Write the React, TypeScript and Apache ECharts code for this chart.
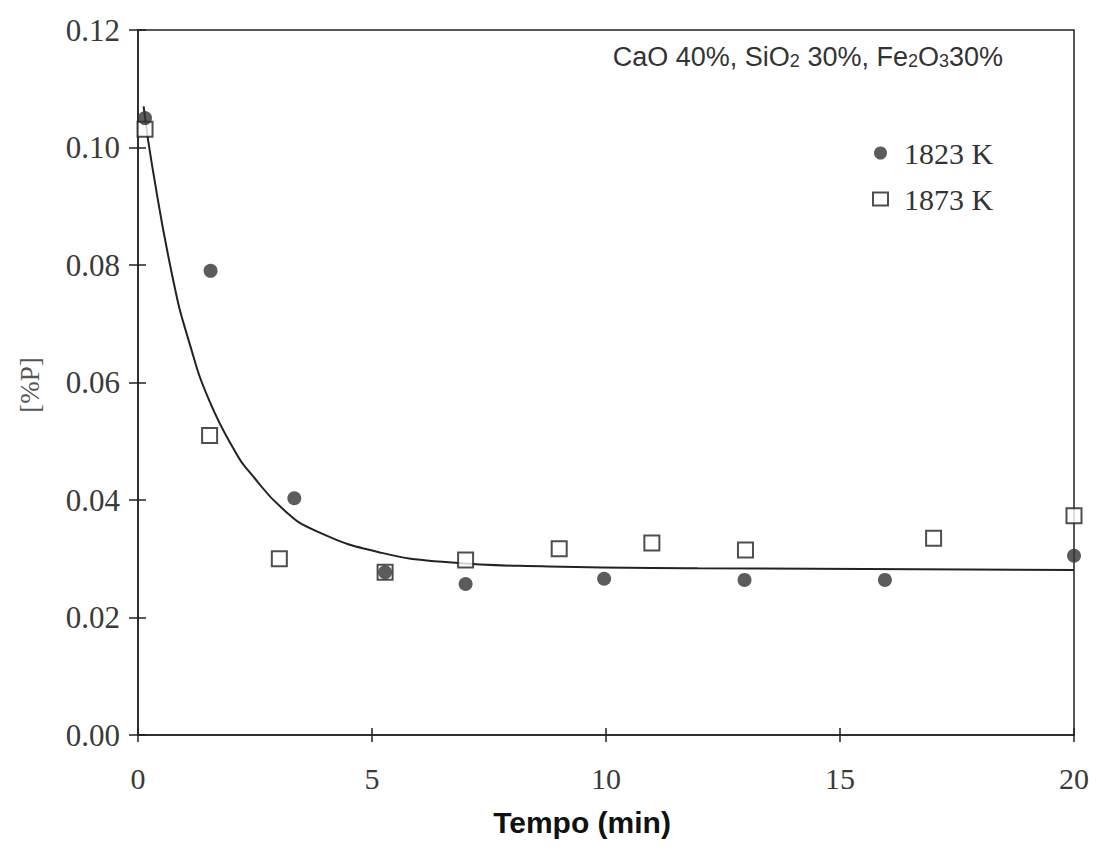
import React, { useEffect, useRef } from "react";
import * as echarts from "echarts";

const xTicks = [0, 5, 10, 15, 20];
const yTickLabels = ["0.00", "0.02", "0.04", "0.06", "0.08", "0.10", "0.12"];

const t1823 = [0.15, 1.55, 3.34, 5.28, 7.0, 9.96, 12.96, 15.96, 20.0];
const p1823 = [0.105, 0.079, 0.0403, 0.0277, 0.0257, 0.0266, 0.0264, 0.0264, 0.0305];

const t1873 = [0.15, 1.53, 3.02, 5.28, 7.0, 9.0, 10.98, 12.98, 17.0, 20.0];
const p1873 = [0.1031, 0.051, 0.03, 0.0277, 0.0298, 0.0317, 0.0327, 0.0315, 0.0335, 0.0373];

const tFit = [0.12, 0.3, 0.75, 1.1, 1.53, 2.13, 2.38, 3.09, 3.81, 5.21, 6.64, 8.77, 11.96, 20.0];
const pFit = [0.107, 0.097, 0.0775, 0.0667, 0.0568, 0.0475, 0.0448, 0.0385, 0.0347, 0.031, 0.0294, 0.0287, 0.0284, 0.0281];

const serif = "'Liberation Serif', 'DejaVu Serif', serif";
const sans = "'Liberation Sans', Arial, sans-serif";

export default function App() {
  const ref = useRef<HTMLDivElement>(null);
  useEffect(() => {
    if (!ref.current) return;
    const chart = echarts.init(ref.current, null, { renderer: "svg" });
    const zip = (a: number[], b: number[]) => a.map((v, i) => [v, b[i]]);
    const axisLineStyle = { color: "#222", width: 1.5 };
    chart.setOption({
      animation: false,
      backgroundColor: "#fff",
      grid: {
        left: 130,
        right: 14,
        top: 22,
        bottom: 116,
        show: true,
        borderColor: "#222",
        borderWidth: 1.5,
        backgroundColor: "transparent",
      },
      legend: {
        orient: "vertical",
        left: 859,
        top: 125,
        itemGap: 16,
        itemWidth: 15,
        itemHeight: 13,
        data: [
          { name: "1823 K", icon: "circle" },
          { name: "1873 K", icon: "rect" },
        ],
        textStyle: { fontFamily: serif, fontSize: 30, lineHeight: 30, color: "#333", padding: [0, 0, 0, 11] },
      },
      xAxis: [
        {
          type: "value",
          min: 0,
          max: 20,
          interval: 5,
          position: "bottom",
          axisLine: { show: true, lineStyle: axisLineStyle },
          axisTick: { show: true, inside: false, length: 7, lineStyle: axisLineStyle },
          axisLabel: {
            fontFamily: serif,
            fontSize: 30,
            color: "#3a3a3a",
            margin: 28,
            formatter: (v: number) => (xTicks.includes(v) ? String(v) : ""),
          },
          splitLine: { show: false },
        },
        {
          type: "value",
          min: 0,
          max: 20,
          interval: 5,
          position: "bottom",
          axisLine: { show: false },
          axisTick: { show: true, inside: true, length: 7, lineStyle: axisLineStyle },
          axisLabel: { show: false },
          splitLine: { show: false },
        },
      ],
      yAxis: [
        {
          type: "value",
          min: 0,
          max: 0.12,
          interval: 0.02,
          axisLine: { show: true, lineStyle: axisLineStyle },
          axisTick: { show: true, inside: false, length: 9, lineStyle: axisLineStyle },
          axisLabel: {
            fontFamily: serif,
            fontSize: 31,
            color: "#3a3a3a",
            margin: 18,
            formatter: (v: number) => yTickLabels[Math.round(v / 0.02)] ?? "",
          },
          splitLine: { show: false },
        },
        {
          type: "value",
          min: 0,
          max: 0.12,
          interval: 0.02,
          position: "left",
          axisLine: { show: false },
          axisTick: { show: true, inside: true, length: 8, lineStyle: axisLineStyle },
          axisLabel: { show: false },
          splitLine: { show: false },
        },
      ],
      graphic: [
        {
          type: "text",
          right: 89,
          top: 35,
          style: {
            text: "{n|CaO 40%, SiO}{s|2}{n| 30%, Fe}{s|2}{n|O}{s|3}{n|30%}",
            rich: {
              n: { fontFamily: sans, fontSize: 27, fill: "#333", verticalAlign: "bottom", lineHeight: 31 },
              s: { fontFamily: sans, fontSize: 18, fill: "#333", verticalAlign: "bottom", lineHeight: 25 },
            },
          },
        },
        {
          type: "text",
          x: 574,
          y: 814,
          style: {
            text: "Tempo (min)",
            fontFamily: sans,
            fontSize: 30,
            fontWeight: "bold",
            fill: "#111",
            align: "center",
            verticalAlign: "middle",
          },
        },
        {
          type: "text",
          x: 22,
          y: 377,
          rotation: Math.PI / 2,
          style: {
            text: "[%P]",
            fontFamily: serif,
            fontSize: 27,
            fill: "#555",
            align: "center",
            verticalAlign: "middle",
          },
        },
      ],
      series: [
        {
          type: "line",
          name: "fit",
          data: zip(tFit, pFit),
          smooth: 0.5,
          showSymbol: false,
          lineStyle: { color: "#222", width: 2 },
          z: 2,
          silent: true,
        },
        {
          type: "scatter",
          name: "1873 K",
          data: zip(t1873, p1873),
          symbol: "rect",
          symbolSize: 15,
          itemStyle: { color: "#fff", borderColor: "#222", borderWidth: 2 },
          z: 3,
        },
        {
          type: "scatter",
          name: "1823 K",
          data: zip(t1823, p1823),
          symbol: "circle",
          symbolSize: 14,
          itemStyle: { color: "#333" },
          z: 4,
        },
      ],
    });
    return () => chart.dispose();
  }, []);
  return <div ref={ref} style={{ width: 1084, height: 843 }} />;
}
